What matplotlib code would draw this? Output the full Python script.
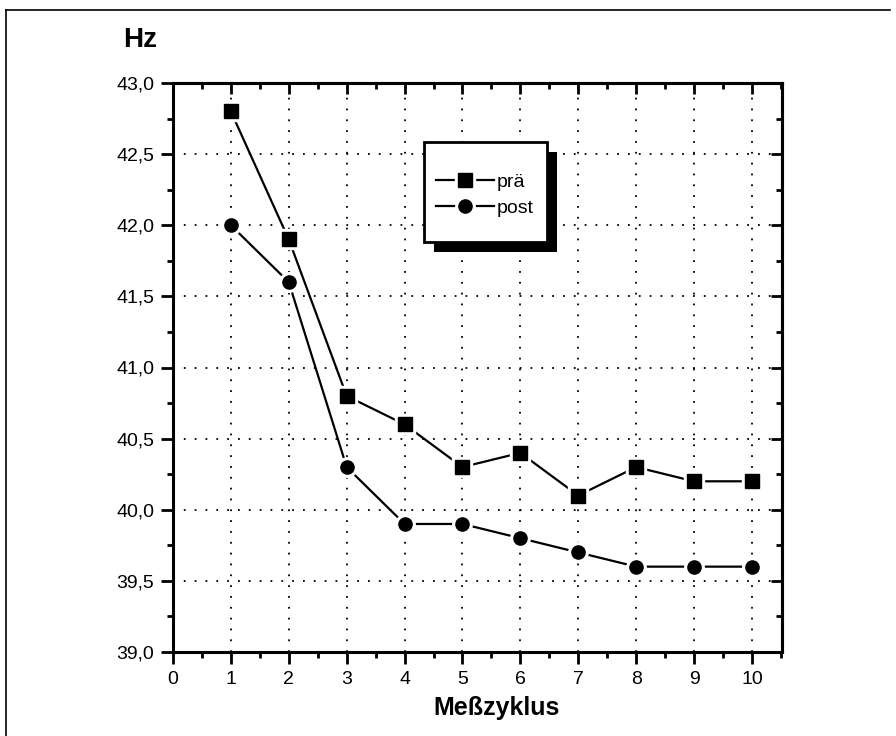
import matplotlib
matplotlib.use("Agg")
import matplotlib.pyplot as plt
from matplotlib.ticker import MultipleLocator, FuncFormatter
from matplotlib.lines import Line2D
from matplotlib.patches import Rectangle
from matplotlib.legend_handler import HandlerTuple

cycles = [1, 2, 3, 4, 5, 6, 7, 8, 9, 10]
pre = [42.8, 41.9, 40.8, 40.6, 40.3, 40.4, 40.1, 40.3, 40.2, 40.2]
post = [42.0, 41.6, 40.3, 39.9, 39.9, 39.8, 39.7, 39.6, 39.6, 39.6]
labels = ["prä", "post"]

plt.rcParams['font.family'] = ['Liberation Sans', 'DejaVu Sans']

W, H = 896, 736
fig = plt.figure(figsize=(W / 100, H / 100), dpi=100)
ax = fig.add_axes([173 / W, 1 - 652 / H, (782 - 173) / W, (652 - 83) / H])

ax.set_xlim(0, 10.52)
ax.set_ylim(39.0, 43.0)

# lines
ax.plot(cycles, pre, color='black', lw=1.6, zorder=3)
ax.plot(cycles, post, color='black', lw=1.6, zorder=3)
# white halos to create gaps around markers
ax.plot(cycles, pre, ls='none', marker='s', ms=15, color='white', zorder=4)
ax.plot(cycles, post, ls='none', marker='o', ms=14, color='white', zorder=4)
ax.plot(cycles, pre, ls='none', marker='s', ms=10, color='black', zorder=5)
ax.plot(cycles, post, ls='none', marker='o', ms=9.5, color='black', zorder=5)

# ticks
ax.xaxis.set_major_locator(MultipleLocator(1))
ax.xaxis.set_minor_locator(MultipleLocator(0.5))
ax.yaxis.set_major_locator(MultipleLocator(0.5))
ax.yaxis.set_minor_locator(MultipleLocator(0.25))
ax.yaxis.set_major_formatter(FuncFormatter(lambda v, p: f"{v:.1f}".replace('.', ',')))
ax.xaxis.set_major_formatter(FuncFormatter(lambda v, p: f"{int(round(v))}"))

ax.tick_params(which='both', direction='out', top=False, right=False, width=2.0,
               labelsize=14, pad=5)
ax.tick_params(which='major', length=8.5)
ax.tick_params(which='minor', length=4)

# inward ticks on top and right
for side in ('top', 'right'):
    sec = ax.secondary_xaxis('top') if side == 'top' else ax.secondary_yaxis('right')
    axis = sec.xaxis if side == 'top' else sec.yaxis
    if side == 'top':
        axis.set_major_locator(MultipleLocator(1))
        axis.set_minor_locator(MultipleLocator(0.5))
    else:
        axis.set_major_locator(MultipleLocator(0.5))
        axis.set_minor_locator(MultipleLocator(0.25))
    sec.tick_params(which='both', direction='in', width=2.0, labelsize=0,
                    labeltop=False, labelright=False)
    sec.tick_params(which='major', length=8)
    sec.tick_params(which='minor', length=4)
    for s in sec.spines.values():
        s.set_linewidth(2.2)

for s in ax.spines.values():
    s.set_linewidth(2.2)

ax.grid(True, which='major', color='black', linestyle=(0, (1, 5)), lw=1.3)

# labels
fig.text(140 / W, 1 - 40 / H, "Hz", fontsize=20, fontweight='bold',
         ha='center', va='center')
fig.text(497 / W, 1 - 708 / H, "Meßzyklus", fontsize=18, fontweight='bold',
         ha='center', va='center')

# legend frame + shadow (drawn manually)
bx0, by0, bx1, by1 = 424, 142, 547, 242
off = 10
fig.add_artist(Rectangle(((bx0 + off) / W, 1 - (by1 + off) / H), (bx1 - bx0) / W, (by1 - by0) / H,
                         transform=fig.transFigure, facecolor='black', edgecolor='none', zorder=9))
fig.add_artist(Rectangle((bx0 / W, 1 - by1 / H), (bx1 - bx0) / W, (by1 - by0) / H,
                         transform=fig.transFigure, facecolor='white', edgecolor='black',
                         lw=2.0, zorder=10))

lh1 = (Line2D([], [], color='black', lw=1.6),
       Line2D([], [], ls='none', marker='s', ms=15, color='white'),
       Line2D([], [], ls='none', marker='s', ms=10, color='black'))
lh2 = (Line2D([], [], color='black', lw=1.6),
       Line2D([], [], ls='none', marker='o', ms=14, color='white'),
       Line2D([], [], ls='none', marker='o', ms=9.5, color='black'))
leg = fig.legend(handles=[lh1, lh2], labels=labels,
                 handler_map={tuple: HandlerTuple(ndivide=1, pad=0)},
                 loc='upper left', bbox_to_anchor=(436 / W, 1 - 173 / H),
                 fontsize=14, frameon=False, handlelength=3.0, handletextpad=0.1,
                 borderpad=0, labelspacing=0.45, borderaxespad=0)
leg.set_zorder(11)

# page border (top and left)
fig.add_artist(Line2D([6 / W, 6 / W], [0, 1 - 10 / H], color='black', lw=1.2,
                      transform=fig.transFigure))
fig.add_artist(Line2D([6 / W, 890 / W], [1 - 10 / H, 1 - 10 / H], color='black', lw=1.2,
                      transform=fig.transFigure))

fig.savefig("out.png", dpi=100)
